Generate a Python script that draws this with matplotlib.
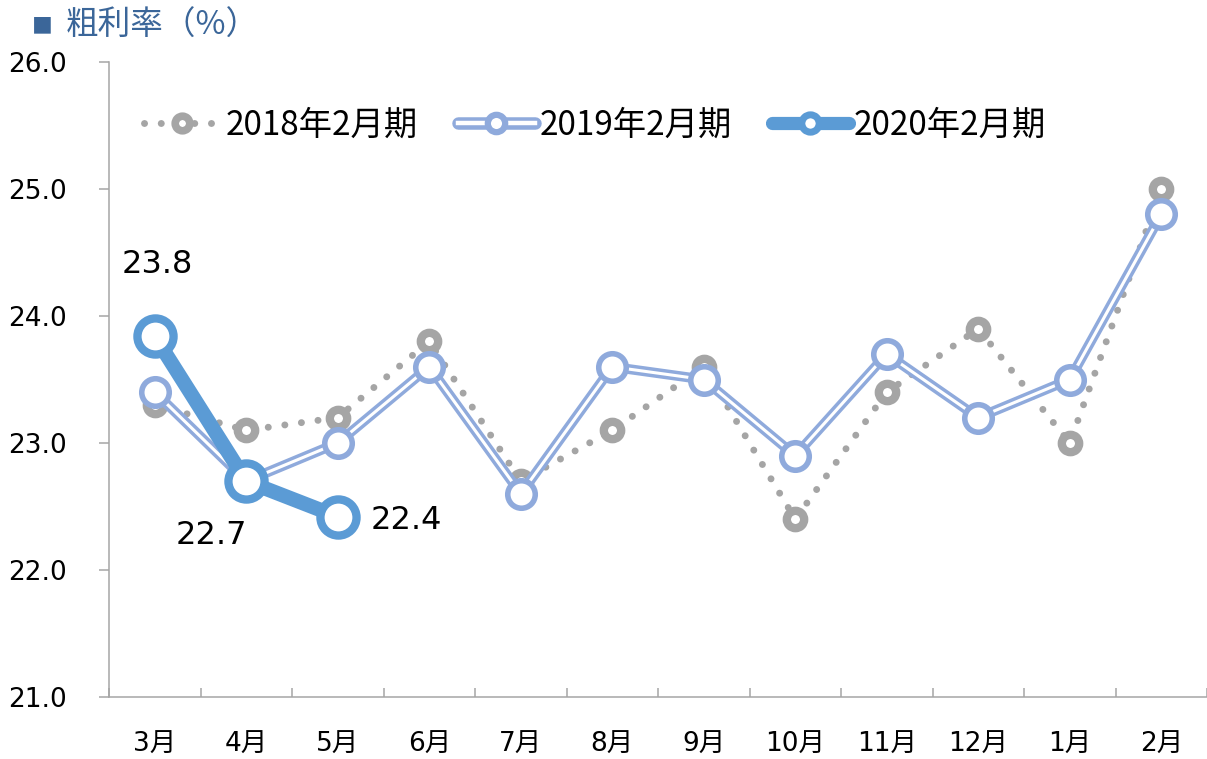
import matplotlib
matplotlib.use("Agg")
import matplotlib.pyplot as plt
from matplotlib.lines import Line2D
from matplotlib.legend_handler import HandlerTuple
from matplotlib.ticker import FixedLocator

plt.rcParams['font.family'] = ['DejaVu Sans', 'Noto Sans CJK JP']

months = ['3月', '4月', '5月', '6月', '7月', '8月', '9月', '10月', '11月', '12月', '1月', '2月']
fy2018 = [23.3, 23.1, 23.2, 23.8, 22.7, 23.1, 23.6, 22.4, 23.4, 23.9, 23.0, 25.0]
fy2019 = [23.4, 22.7, 23.0, 23.6, 22.6, 23.6, 23.5, 22.9, 23.7, 23.2, 23.5, 24.8]
fy2020 = [23.84, 22.7, 22.42]
fy2020_labels = ['23.8', '22.7', '22.4']
series_names = ['2018年2月期', '2019年2月期', '2020年2月期']
yticks = [21.0, 22.0, 23.0, 24.0, 25.0, 26.0]

c18 = '#A5A5A5'
c19 = '#8FAADC'
c20 = '#5B9BD5'
axis_c = '#A6A6A6'

W, H = 1207, 759
fig = plt.figure(figsize=(W / 100, H / 100), dpi=100)
ax = fig.add_axes([109 / W, 1 - 697 / H, 1098 / W, 635 / H])

x = list(range(len(months)))
x20 = x[:len(fy2020)]

dot_style = (0, (0.01, 2.4))

# 2018 dotted
ax.plot(x, fy2018, color=c18, lw=5, linestyle=dot_style,
        dash_capstyle='round', zorder=2)
ax.plot(x, fy2018, ls='none', marker='o', ms=12.5, mew=6, mfc='white', mec=c18,
        zorder=3, clip_on=False)
# 2019 double line
ax.plot(x, fy2019, color=c19, lw=7.2, solid_joinstyle='miter', zorder=4)
ax.plot(x, fy2019, color='white', lw=2.2, solid_joinstyle='miter', zorder=5)
ax.plot(x, fy2019, ls='none', marker='o', ms=19.8, mew=4, mfc='white', mec=c19,
        zorder=6, clip_on=False)
# 2020 thick
ax.plot(x20, fy2020, color=c20, lw=10.5, zorder=7)
ax.plot(x20, fy2020, ls='none', marker='o', ms=26, mew=6, mfc='white', mec=c20,
        zorder=8, clip_on=False)

# data labels
offsets = [((2, 52), 'center', 'center'), ((-25, -39), 'center', 'center'), ((24, -3), 'left', 'center')]
for xi, yi, lab, (off, ha, va) in zip(x20, fy2020, fy2020_labels, offsets):
    ax.annotate(lab, (xi, yi), xytext=off, textcoords='offset points', ha=ha, va=va,
                fontsize=23, color='black', zorder=9)

ax.set_xlim(-0.5, len(months) - 0.5)
ax.set_ylim(21, 26)
ax.set_yticks(yticks)
ax.set_yticklabels([f'{v:.1f}' for v in yticks])
ax.set_xticks(x)
ax.set_xticklabels(months)
ax.xaxis.set_minor_locator(FixedLocator([i + 0.5 for i in range(-1, len(months))]))

for s in ['top', 'right']:
    ax.spines[s].set_visible(False)
for s in ['left', 'bottom']:
    ax.spines[s].set_color(axis_c)
    ax.spines[s].set_linewidth(1.1)

ax.tick_params(axis='y', direction='out', length=7, width=1.1, color=axis_c,
               pad=23, labelsize=19, labelcolor='black')
ax.tick_params(axis='x', which='major', length=0, pad=25, labelsize=19, labelcolor='black')
ax.tick_params(axis='x', which='minor', direction='in', length=6.5, width=1.1, color=axis_c)

# legend
h18 = (Line2D([], [], color=c18, lw=5, linestyle=dot_style, dash_capstyle='round'),
       Line2D([], [], ls='none', marker='o', ms=10.5, mew=5.5, mfc='white', mec=c18))
h19 = (Line2D([], [], color=c19, lw=9, solid_capstyle='round'),
       Line2D([], [], color='white', lw=3.2),
       Line2D([], [], ls='none', marker='o', ms=12.5, mew=4.5, mfc='white', mec=c19))
h20 = (Line2D([], [], color=c20, lw=9.5, solid_capstyle='round'),
       Line2D([], [], ls='none', marker='o', ms=12.5, mew=5, mfc='white', mec=c20))
leg = ax.legend([h18, h19, h20], series_names,
                handler_map={tuple: HandlerTuple(ndivide=1, pad=0)},
                loc='center left', bbox_to_anchor=(0.032, 0.90), ncol=3,
                frameon=False, borderpad=0, borderaxespad=0,
                handlelength=2.3, handletextpad=0.15, columnspacing=1.2,
                prop={'family': ['Noto Sans CJK JP'], 'size': 24})

# title
fig.text(32 / W, 1 - 26 / H, '■', fontsize=15, color='#3B6699', va='center', ha='left',
         family=['Noto Sans CJK JP'])
fig.text(66 / W, 1 - 26 / H, '粗利率（%）', fontsize=23.5, color='#3B6699', va='center', ha='left',
         family=['Noto Sans CJK JP'])

fig.savefig('out.png', dpi=100)
